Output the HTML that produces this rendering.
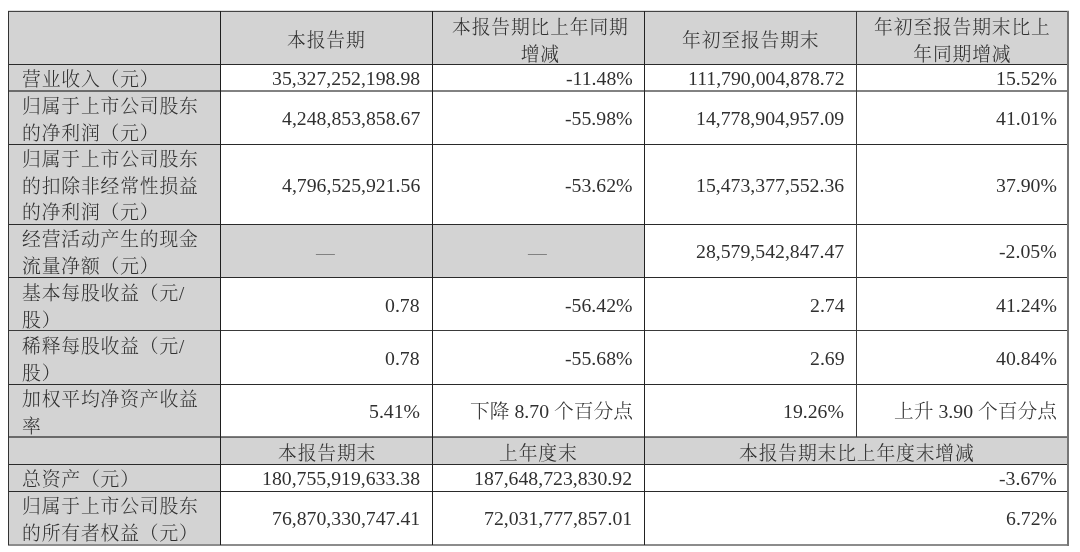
<!DOCTYPE html>
<html lang="zh-CN">
<head>
<meta charset="utf-8">
<title>主要会计数据和财务指标</title>
<style>
html,body{margin:0;padding:0;background:#fff;}
body{width:1080px;height:552px;position:relative;overflow:hidden;
 font-family:"Liberation Serif","Noto Serif CJK SC",serif;font-size:19.75px;line-height:26.67px;
 color:#303030;font-weight:300;letter-spacing:0px;}
.c{position:absolute;box-sizing:border-box;display:flex;align-items:center;white-space:nowrap;}
.c span{display:block;position:relative;top:3.4px;will-change:transform;}
.g{background:#d3d3d3;}
.l{justify-content:flex-start;padding-left:14px;text-align:left;}
.l,.m{font-size:18.8px;letter-spacing:0.85px;}
.m span{left:0.7px;top:3.7px;}
.r{justify-content:flex-end;text-align:right;}
.r span{top:1.0px;}
.m{justify-content:center;text-align:center;}
.dash{color:#7e7e7e;font-weight:500;}
.dash span{top:2.2px;left:0.2px;}
.s3{padding-left:2.4px;}
.ln{position:absolute;background:#333;}
</style>
</head>
<body>
<div class="c g m" style="left:8px;top:11px;width:212px;height:53px"><span></span></div>
<div class="c g m" style="left:220px;top:11px;width:212px;height:53px"><span>本报告期</span></div>
<div class="c g m s3" style="left:432px;top:11px;width:212px;height:53px"><span>本报告期比上年同期<br>增减</span></div>
<div class="c g m" style="left:644px;top:11px;width:212px;height:53px"><span>年初至报告期末</span></div>
<div class="c g m" style="left:856px;top:11px;width:212px;height:53px"><span>年初至报告期末比上<br>年同期增减</span></div>
<div class="c g l" style="left:8px;top:64px;width:212px;height:26.67px"><span>营业收入（元）</span></div>
<div class="c r" style="left:220px;top:64px;width:212px;height:26.67px;padding-right:12.2px"><span>35,327,252,198.98</span></div>
<div class="c r" style="left:432px;top:64px;width:212px;height:26.67px;padding-right:11.2px"><span>-11.48%</span></div>
<div class="c r" style="left:644px;top:64px;width:212px;height:26.67px;padding-right:11.7px"><span>111,790,004,878.72</span></div>
<div class="c r" style="left:856px;top:64px;width:212px;height:26.67px;padding-right:11.4px"><span>15.52%</span></div>
<div class="c g l" style="left:8px;top:90.67px;width:212px;height:53.33px"><span>归属于上市公司股东<br>的净利润（元）</span></div>
<div class="c r" style="left:220px;top:90.67px;width:212px;height:53.33px;padding-right:12.2px"><span>4,248,853,858.67</span></div>
<div class="c r" style="left:432px;top:90.67px;width:212px;height:53.33px;padding-right:11.2px"><span>-55.98%</span></div>
<div class="c r" style="left:644px;top:90.67px;width:212px;height:53.33px;padding-right:11.7px"><span>14,778,904,957.09</span></div>
<div class="c r" style="left:856px;top:90.67px;width:212px;height:53.33px;padding-right:11.4px"><span>41.01%</span></div>
<div class="c g l" style="left:8px;top:144px;width:212px;height:80px"><span>归属于上市公司股东<br>的扣除非经常性损益<br>的净利润（元）</span></div>
<div class="c r" style="left:220px;top:144px;width:212px;height:80px;padding-right:12.2px"><span>4,796,525,921.56</span></div>
<div class="c r" style="left:432px;top:144px;width:212px;height:80px;padding-right:11.2px"><span>-53.62%</span></div>
<div class="c r" style="left:644px;top:144px;width:212px;height:80px;padding-right:11.7px"><span>15,473,377,552.36</span></div>
<div class="c r" style="left:856px;top:144px;width:212px;height:80px;padding-right:11.4px"><span>37.90%</span></div>
<div class="c g l" style="left:8px;top:224px;width:212px;height:53.33px"><span>经营活动产生的现金<br>流量净额（元）</span></div>
<div class="c g m dash" style="left:220px;top:224px;width:212px;height:53.33px"><span>—</span></div>
<div class="c g m dash" style="left:432px;top:224px;width:212px;height:53.33px"><span>—</span></div>
<div class="c r" style="left:644px;top:224px;width:212px;height:53.33px;padding-right:11.7px"><span>28,579,542,847.47</span></div>
<div class="c r" style="left:856px;top:224px;width:212px;height:53.33px;padding-right:11.4px"><span>-2.05%</span></div>
<div class="c g l" style="left:8px;top:277.33px;width:212px;height:53.34px"><span>基本每股收益（元/<br>股）</span></div>
<div class="c r" style="left:220px;top:277.33px;width:212px;height:53.34px;padding-right:12.2px"><span>0.78</span></div>
<div class="c r" style="left:432px;top:277.33px;width:212px;height:53.34px;padding-right:11.2px"><span>-56.42%</span></div>
<div class="c r" style="left:644px;top:277.33px;width:212px;height:53.34px;padding-right:11.7px"><span>2.74</span></div>
<div class="c r" style="left:856px;top:277.33px;width:212px;height:53.34px;padding-right:11.4px"><span>41.24%</span></div>
<div class="c g l" style="left:8px;top:330.67px;width:212px;height:53.33px"><span>稀释每股收益（元/<br>股）</span></div>
<div class="c r" style="left:220px;top:330.67px;width:212px;height:53.33px;padding-right:12.2px"><span>0.78</span></div>
<div class="c r" style="left:432px;top:330.67px;width:212px;height:53.33px;padding-right:11.2px"><span>-55.68%</span></div>
<div class="c r" style="left:644px;top:330.67px;width:212px;height:53.33px;padding-right:11.7px"><span>2.69</span></div>
<div class="c r" style="left:856px;top:330.67px;width:212px;height:53.33px;padding-right:11.4px"><span>40.84%</span></div>
<div class="c g l" style="left:8px;top:384px;width:212px;height:53.33px"><span>加权平均净资产收益<br>率</span></div>
<div class="c r" style="left:220px;top:384px;width:212px;height:53.33px;padding-right:12.2px"><span>5.41%</span></div>
<div class="c r" style="left:432px;top:384px;width:212px;height:53.33px;padding-right:11.2px"><span>下降 8.70 个百分点</span></div>
<div class="c r" style="left:644px;top:384px;width:212px;height:53.33px;padding-right:11.7px"><span>19.26%</span></div>
<div class="c r" style="left:856px;top:384px;width:212px;height:53.33px;padding-right:11.4px"><span>上升 3.90 个百分点</span></div>
<div class="c g m" style="left:8px;top:437.33px;width:212px;height:26.67px"><span></span></div>
<div class="c g m" style="left:220px;top:437.33px;width:212px;height:26.67px"><span>本报告期末</span></div>
<div class="c g m" style="left:432px;top:437.33px;width:212px;height:26.67px"><span>上年度末</span></div>
<div class="c g m" style="left:644px;top:437.33px;width:424px;height:26.67px"><span>本报告期末比上年度末增减</span></div>
<div class="c g l" style="left:8px;top:464px;width:212px;height:26.67px"><span>总资产（元）</span></div>
<div class="c r" style="left:220px;top:464px;width:212px;height:26.67px;padding-right:12.2px"><span>180,755,919,633.38</span></div>
<div class="c r" style="left:432px;top:464px;width:212px;height:26.67px;padding-right:12.0px"><span>187,648,723,830.92</span></div>
<div class="c r" style="left:644px;top:464px;width:424px;height:26.67px;padding-right:11.4px"><span>-3.67%</span></div>
<div class="c g l" style="left:8px;top:490.67px;width:212px;height:53.66px"><span>归属于上市公司股东<br>的所有者权益（元）</span></div>
<div class="c r" style="left:220px;top:490.67px;width:212px;height:53.66px;padding-right:12.2px"><span>76,870,330,747.41</span></div>
<div class="c r" style="left:432px;top:490.67px;width:212px;height:53.66px;padding-right:12.0px"><span>72,031,777,857.01</span></div>
<div class="c r" style="left:644px;top:490.67px;width:424px;height:53.66px;padding-right:11.4px"><span>6.72%</span></div>
<div class="ln" style="left:8px;top:11px;width:1061px;height:1px;background:#444"></div>
<div class="ln" style="left:8px;top:64px;width:1061px;height:1px;background:#2a2a2a"></div>
<div class="ln" style="left:8px;top:90px;width:1061px;height:2px;background:rgba(0,0,0,.49)"></div>
<div class="ln" style="left:8px;top:144px;width:1061px;height:1px;background:#2a2a2a"></div>
<div class="ln" style="left:8px;top:224px;width:1061px;height:1px;background:#2a2a2a"></div>
<div class="ln" style="left:8px;top:277px;width:1061px;height:1px;background:#2a2a2a"></div>
<div class="ln" style="left:8px;top:330px;width:1061px;height:1px;background:#3a3a3a"></div>
<div class="ln" style="left:8px;top:384px;width:1061px;height:1px;background:#2a2a2a"></div>
<div class="ln" style="left:8px;top:436px;width:1061px;height:2px;background:rgba(0,0,0,.5)"></div>
<div class="ln" style="left:8px;top:464px;width:1061px;height:1px;background:#2a2a2a"></div>
<div class="ln" style="left:8px;top:491px;width:1061px;height:1px;background:#2a2a2a"></div>
<div class="ln" style="left:8px;top:544px;width:1061px;height:2px;background:rgba(0,0,0,.45)"></div>
<div class="ln" style="left:8px;top:10px;width:1061px;height:1px;background:rgba(0,0,0,.13)"></div>
<div class="ln" style="left:8px;top:11px;width:1px;height:534px;background:#333"></div>
<div class="ln" style="left:220px;top:11px;width:1px;height:534px;background:#1e1e1e"></div>
<div class="ln" style="left:432px;top:11px;width:1px;height:534px;background:#1e1e1e"></div>
<div class="ln" style="left:644px;top:11px;width:1px;height:534px;background:#222"></div>
<div class="ln" style="left:856px;top:11px;width:1px;height:426px;background:#3a3a3a"></div>
<div class="ln" style="left:1067px;top:11px;width:2px;height:535px;background:#767676"></div>
</body>
</html>
